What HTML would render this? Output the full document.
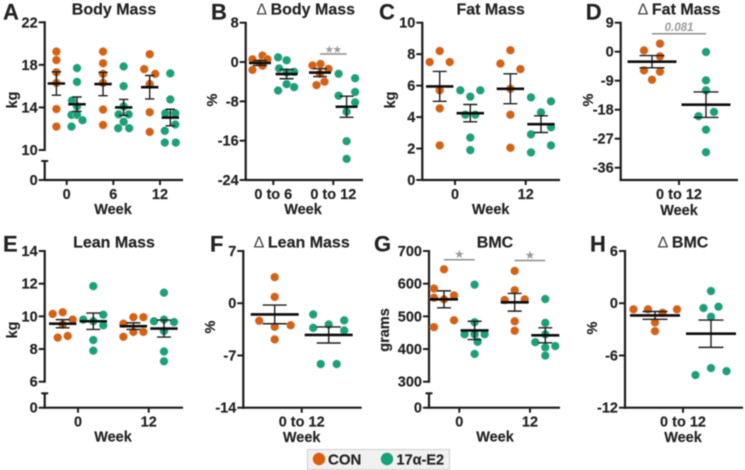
<!DOCTYPE html>
<html lang="en">
<head>
<meta charset="utf-8">
<title>Body composition panels</title>
<style>
html,body{margin:0;padding:0;background:#fff;width:745px;height:470px;overflow:hidden}
svg{display:block;filter:blur(0.45px)}
text{font-family:"Liberation Sans",Arial,sans-serif;font-weight:bold;fill:#222;stroke:#222;stroke-width:0.15px}
</style>
</head>
<body>
<svg id="chart" xmlns="http://www.w3.org/2000/svg" width="745" height="470" viewBox="0 0 745 470"></svg>
<script>
// ---------- Panel A: Body Mass ----------
const panelACategories = ['0', '6', '12'];
const panelATicks = [22, 18, 14, 10];
const panelAConValues = [[19.25,18.45,17.3,16.3,13.85,12.2],[19.25,18.15,17.15,16.3,13.8,12.35],[19.0,17.6,17.15,16.2,13.55,11.7]];
const panelAConLanes = [[0,0,0,0,0,0],[0,0,0,0,0,0],[0,-1.1,1.1,0,0,0]];
const panelAConMeans = [16.25,16.2,15.9];
const panelAConSems = [1.1,1.1,1.1];
const panelAE2Values = [[17.7,16.4,14.65,14.1,13.3,13.3,12.8,12.2],[17.85,16.0,14.1,13.35,13.35,12.65,12.05,12.05],[17.2,14.75,13.45,13.45,12.4,11.8,10.7,10.7]];
const panelAE2Lanes = [[0,0,-1,0,-1.1,0,1.1,-1.1],[0,0,0,-1,1,0,-1.1,1.1],[0,0,-1,1,1,-1.1,-1.1,1.1]];
const panelAE2Means = [14.3,14.0,13.05];
const panelAE2Sems = [0.68,0.75,0.78];

// ---------- Panel B: Delta Body Mass ----------
const panelBCategories = ['0 to 6', '0 to 12'];
const panelBTicks = [8, 0, -8, -16, -24];
const panelBConValues = [[1.3,0.55,0.55,-0.2,-0.75,-1.6],[-0.7,-0.4,-1.4,-2.4,-4.0,-4.7]];
const panelBConLanes = [[0.5,-1.5,1.5,0,0.5,-1.5],[-1.5,0.1,1.7,0,0.9,-0.7]];
const panelBConMeans = [-0.2,-2.15];
const panelBConSems = [0.5,0.8];
const panelBE2Values = [[0.95,0.35,-1.3,-2.1,-2.0,-4.5,-5.1,-5.8],[-2.4,-3.3,-6.1,-6.85,-8.2,-10.1,-16.1,-19.7]];
const panelBE2Lanes = [[-1.7,0,-1.5,0,1.5,0,1.5,-1.7],[-1.6,1.7,1.7,-1.6,1.7,0,0,0]];
const panelBE2Means = [-2.45,-9.1];
const panelBE2Sems = [0.95,2.15];

// ---------- Panel C: Fat Mass ----------
const panelCCategories = ['0', '12'];
const panelCTicks = [10, 8, 6, 4, 2, 0];
const panelCConValues = [[8.2,7.5,7.5,5.7,4.55,2.2],[8.25,7.4,7.05,5.8,4.15,2.05]];
const panelCConLanes = [[0,-2,2,0,0,0],[0,-2,2,0,0,0]];
const panelCConMeans = [5.95,5.8];
const panelCConSems = [0.95,0.95];
const panelCE2Values = [[5.7,5.7,5.3,4.15,4.15,2.7,1.9],[5.25,5.0,4.3,3.35,2.9,2.2,1.75]];
const panelCE2Lanes = [[-2,2,0,-1,1,0,0],[-2,2,0,2,-2,2,-2]];
const panelCE2Means = [4.25,3.55];
const panelCE2Sems = [0.55,0.53];

// ---------- Panel D: Delta Fat Mass ----------
const panelDCategories = ['0 to 12'];
const panelDTicks = [9, 0, -9, -18, -27, -36];
const panelDConValues = [[2.5,0.4,-1.45,-5.8,-6.2,-8.7]];
const panelDConLanes = [[1.6,-1.6,1.6,-1.6,1.6,0]];
const panelDConMeans = [-3.1];
const panelDConSems = [1.9];
const panelDE2Values = [[-0.1,-8.9,-12,-18.7,-20,-24.2,-31.2]];
const panelDE2Lanes = [[0,0,0,1.6,-1.5,0,0]];
const panelDE2Means = [-16.45];
const panelDE2Sems = [3.95];

// ---------- Panel E: Lean Mass ----------
const panelECategories = ['0', '12'];
const panelETicks = [14, 12, 10, 8, 6];
const panelEConValues = [[10.15,10.25,9.8,9.5,8.7,8.8],[9.95,9.95,9.55,8.75,9.05,9.05]];
const panelEConLanes = [[-2,0,2,0,-1,1],[0,2,-2,-2,0,2]];
const panelEConMeans = [9.55,9.4];
const panelEConSems = [0.25,0.2];
const panelEE2Values = [[11.85,9.8,9.7,10.1,9.45,8.55,7.9],[11.45,9.7,9.8,9.65,9.1,7.85,7.25]];
const panelEE2Lanes = [[0,-2,0,2,2,0,0],[0,-2,0,2,0,0,0]];
const panelEE2Means = [9.7,9.25];
const panelEE2Sems = [0.5,0.52];

// ---------- Panel F: Delta Lean Mass ----------
const panelFCategories = ['0 to 12'];
const panelFTicks = [7, 0, -7, -14];
const panelFConValues = [[3.5,0.85,-2.35,-2.95,-3.15,-4.85]];
const panelFConLanes = [[0,0,-3.1,3.2,0,0]];
const panelFConMeans = [-1.5];
const panelFConSems = [1.25];
const panelFE2Values = [[-1.5,-2.3,-3.3,-2.85,-3.65,-8.15,-8.15]];
const panelFE2Lanes = [[-3.1,3.1,-3.1,0,3.1,-1.6,1.6]];
const panelFE2Means = [-4.25];
const panelFE2Sems = [1.08];

// ---------- Panel G: BMC ----------
const panelGCategories = ['0', '12'];
const panelGTicks = [700, 600, 500, 400, 300];
const panelGConValues = [[644,585,557,564,552,488,467],[639,580,550,552,485,456]];
const panelGConLanes = [[0,-2,-2,2,0,2,-2],[0,0,-2,2,0,0]];
const panelGConMeans = [552,543];
const panelGConSems = [26,27];
const panelGE2Values = [[597,482,445,445,445,422,385],[553,480,445,421,405,409,380]];
const panelGE2Lanes = [[0,0,-2,2,0,0.6,0],[0,0,0,-2,0,2,0]];
const panelGE2Means = [457,442];
const panelGE2Sems = [28,23];

// ---------- Panel H: Delta BMC ----------
const panelHCategories = ['0 to 12'];
const panelHTicks = [6, 0, -6, -12];
const panelHConValues = [[-0.7,-0.7,-1.1,-0.7,-2.2,-3.2]];
const panelHConLanes = [[-4.3,-1.4,1.5,4.4,0,0]];
const panelHConMeans = [-1.4];
const panelHConSems = [0.45];
const panelHE2Values = [[1.4,-0.55,-0.4,-1.55,-7.45,-8.25,-7.8]];
const panelHE2Lanes = [[0,-1.5,1.5,0,0,-3.1,3.1]];
const panelHE2Means = [-3.5];
const panelHE2Sems = [1.57];

// ---------- Layout (geometry only) ----------
const CON_COLOR = '#d9600f';
const E2_COLOR = '#17a27a';
const AXIS_COLOR = '#1c1c1c';
const LANE_PX = 5;
const NS = 'http://www.w3.org/2000/svg';
const svg = document.getElementById('chart');

const panels = [
 {key:'a',letter:'A',letterX:3,letterY:19.5,title:'Body Mass',delta:false,titleX:114,titleY:14.5,ylabel:'kg',ylabelX:17,ylabelY:100,
  axisX:44.7,axisEnd:183,axisBottom:180,domainTop:22,domainBottom:10,pxTop:22.3,pxBottom:150,breakTop:161,
  firstTick:66.7,tickStep:46.65,groupOff:10.3,meanHalf:8.7,capHalf:4.7,labelY:199,weekX:113,weekY:214,
  cats:panelACategories,ticks:panelATicks,con:panelAConValues,conLanes:panelAConLanes,conMeans:panelAConMeans,conSems:panelAConSems,
  e2:panelAE2Values,e2Lanes:panelAE2Lanes,e2Means:panelAE2Means,e2Sems:panelAE2Sems,sig:[]},
 {key:'b',letter:'B',letterX:211,letterY:19.5,title:'Body Mass',delta:true,titleX:305.7,titleY:14.5,ylabel:'%',ylabelX:217,ylabelY:100,
  axisX:245.7,axisEnd:363,axisBottom:180,domainTop:8,domainBottom:-24,pxTop:22.7,pxBottom:180,
  firstTick:273.3,tickStep:60,groupOff:13.3,meanHalf:11,capHalf:7,labelY:199,weekX:303,weekY:214,
  cats:panelBCategories,ticks:panelBTicks,con:panelBConValues,conLanes:panelBConLanes,conMeans:panelBConMeans,conSems:panelBConSems,
  e2:panelBE2Values,e2Lanes:panelBE2Lanes,e2Means:panelBE2Means,e2Sems:panelBE2Sems,sig:[{cat:1,y:54,label:'★★',labelY:52.5,size:9}]},
 {key:'c',letter:'C',letterX:379,letterY:19.5,title:'Fat Mass',delta:false,titleX:490.7,titleY:14.5,ylabel:'kg',ylabelX:395,ylabelY:100,
  axisX:422.3,axisEnd:560,axisBottom:180,domainTop:10,domainBottom:0,pxTop:22.7,pxBottom:180,
  firstTick:455,tickStep:70.7,groupOff:15.3,meanHalf:13.7,capHalf:7,labelY:199,weekX:490.7,weekY:214,
  cats:panelCCategories,ticks:panelCTicks,con:panelCConValues,conLanes:panelCConLanes,conMeans:panelCConMeans,conSems:panelCConSems,
  e2:panelCE2Values,e2Lanes:panelCE2Lanes,e2Means:panelCE2Means,e2Sems:panelCE2Sems,sig:[]},
 {key:'d',letter:'D',letterX:585.7,letterY:19.5,title:'Fat Mass',delta:true,titleX:679,titleY:14.5,ylabel:'%',ylabelX:593,ylabelY:100,
  axisX:620.7,axisEnd:738,axisBottom:180,domainTop:9,domainBottom:-36,pxTop:22.7,pxBottom:167.7,
  firstTick:679,tickStep:0,groupOff:27,meanHalf:24.5,capHalf:12.5,labelY:199,weekX:679,weekY:215,
  cats:panelDCategories,ticks:panelDTicks,con:panelDConValues,conLanes:panelDConLanes,conMeans:panelDConMeans,conSems:panelDConSems,
  e2:panelDE2Values,e2Lanes:panelDE2Lanes,e2Means:panelDE2Means,e2Sems:panelDE2Sems,sig:[{cat:0,y:33.7,label:'0.081',labelY:31,size:11.5,italic:true}]},
 {key:'e',letter:'E',letterX:3,letterY:251.5,title:'Lean Mass',delta:false,titleX:114,titleY:247.7,ylabel:'kg',ylabelX:17,ylabelY:330,
  axisX:44.7,axisEnd:183,axisBottom:407.7,domainTop:14,domainBottom:6,pxTop:251,pxBottom:381.7,breakTop:393.3,
  firstTick:78,tickStep:70.7,groupOff:15.3,meanHalf:13.7,capHalf:7,labelY:426.7,weekX:113,weekY:441.7,
  cats:panelECategories,ticks:panelETicks,con:panelEConValues,conLanes:panelEConLanes,conMeans:panelEConMeans,conSems:panelEConSems,
  e2:panelEE2Values,e2Lanes:panelEE2Lanes,e2Means:panelEE2Means,e2Sems:panelEE2Sems,sig:[]},
 {key:'f',letter:'F',letterX:210,letterY:251.5,title:'Lean Mass',delta:true,titleX:301.7,titleY:247.7,ylabel:'%',ylabelX:215,ylabelY:327,
  axisX:243.3,axisEnd:361.7,axisBottom:407.7,domainTop:7,domainBottom:-14,pxTop:251,pxBottom:407.7,
  firstTick:301.7,tickStep:0,groupOff:27,meanHalf:24,capHalf:12,labelY:426.7,weekX:301.7,weekY:442,
  cats:panelFCategories,ticks:panelFTicks,con:panelFConValues,conLanes:panelFConLanes,conMeans:panelFConMeans,conSems:panelFConSems,
  e2:panelFE2Values,e2Lanes:panelFE2Lanes,e2Means:panelFE2Means,e2Sems:panelFE2Sems,sig:[]},
 {key:'g',letter:'G',letterX:374,letterY:251.5,title:'BMC',delta:false,titleX:495,titleY:247.7,ylabel:'grams',ylabelX:389,ylabelY:330,
  axisX:429,axisEnd:560,axisBottom:407.7,domainTop:700,domainBottom:300,pxTop:251,pxBottom:381.7,breakTop:393.3,
  firstTick:459.3,tickStep:70.7,groupOff:15.3,meanHalf:14,capHalf:7,labelY:426.7,weekX:495,weekY:441.7,
  cats:panelGCategories,ticks:panelGTicks,con:panelGConValues,conLanes:panelGConLanes,conMeans:panelGConMeans,conSems:panelGConSems,
  e2:panelGE2Values,e2Lanes:panelGE2Lanes,e2Means:panelGE2Means,e2Sems:panelGE2Sems,
  sig:[{cat:0,y:259.7,label:'★',labelY:257.5,size:10},{cat:1,y:260.5,label:'★',labelY:258.5,size:10}]},
 {key:'h',letter:'H',letterX:590,letterY:251.5,title:'BMC',delta:true,titleX:683,titleY:247.7,ylabel:'%',ylabelX:597,ylabelY:328,
  axisX:625,axisEnd:743,axisBottom:407.7,domainTop:6,domainBottom:-12,pxTop:251,pxBottom:407.7,
  firstTick:683,tickStep:0,groupOff:28,meanHalf:25,capHalf:12.5,labelY:426.7,weekX:683,weekY:442,
  cats:panelHCategories,ticks:panelHTicks,con:panelHConValues,conLanes:panelHConLanes,conMeans:panelHConMeans,conSems:panelHConSems,
  e2:panelHE2Values,e2Lanes:panelHE2Lanes,e2Means:panelHE2Means,e2Sems:panelHE2Sems,sig:[]}
];

function make(parent, tag, attrs, txt) {
  const el = document.createElementNS(NS, tag);
  for (const k in attrs) el.setAttribute(k, attrs[k]);
  if (txt !== undefined) el.textContent = txt;
  parent.appendChild(el);
  return el;
}
function yScale(p, v) {
  return p.pxBottom + (v - p.domainBottom) * (p.pxTop - p.pxBottom) / (p.domainTop - p.domainBottom);
}
function xTick(p, i) {
  return p.firstTick + i * p.tickStep;
}
function axisLine(g, x1, y1, x2, y2, w, name) {
  const l = make(g, 'line', {x1:x1, y1:y1, x2:x2, y2:y2, stroke:AXIS_COLOR, 'stroke-width':w});
  
  
  return l;
}

function drawAxes(g, p) {
  const top = yScale(p, p.ticks[0]);
  const lastVal = p.ticks[p.ticks.length - 1];
  if (p.breakTop !== undefined) {
    axisLine(g, p.axisX, top - 1, p.axisX, yScale(p, lastVal) + 1, 2.2, 'y-axis-upper');
    axisLine(g, p.axisX, p.breakTop, p.axisX, p.axisBottom, 2.2, 'y-axis-lower');
    axisLine(g, p.axisX - 3.5, p.breakTop, p.axisX + 3.5, p.breakTop, 2, 'y-axis-break-cap');
    axisLine(g, p.axisX - 6, p.axisBottom, p.axisX, p.axisBottom, 2, 'y-tick-0');
    const z = make(g, 'text', {x:p.axisX - 7, y:p.axisBottom + 5, 'text-anchor':'end', 'font-size':14.5}, '0');
    
    
  } else {
    axisLine(g, p.axisX, top - 1, p.axisX, p.axisBottom + 1, 2.2, 'y-axis');
  }
  axisLine(g, p.axisX - 1, p.axisBottom, p.axisEnd, p.axisBottom, 2.2, 'x-axis');
  p.ticks.forEach(function (t) {
    const y = yScale(p, t);
    axisLine(g, p.axisX - 6, y, p.axisX, y, 2, 'y-tick-' + t);
    const lab = make(g, 'text', {x:p.axisX - 7, y:y + 5, 'text-anchor':'end', 'font-size':14.5}, String(t));
    
    
  });
  p.cats.forEach(function (c, i) {
    const x = xTick(p, i);
    axisLine(g, x, p.axisBottom, x, p.axisBottom + 5, 2, 'x-tick-' + c.replace(/ /g, '-'));
    const lab = make(g, 'text', {x:x, y:p.labelY, 'text-anchor':'middle', 'font-size':14.5}, c);
    
    
  });
}

function drawGroup(g, p, cx, values, lanes, mean, sem, color, label) {
  values.forEach(function (v, j) {
    const c = make(g, 'circle', {cx:cx + lanes[j] * LANE_PX, cy:yScale(p, v), r:4.2, fill:color, stroke:'#c8c8c8', 'stroke-width':0.5});
    
    
  });
  const yHi = yScale(p, mean + sem), yLo = yScale(p, mean - sem), yM = yScale(p, mean);
  const w = make(g, 'path', {d:'M' + (cx - p.capHalf) + ' ' + yHi + 'H' + (cx + p.capHalf) + 'M' + cx + ' ' + yHi + 'V' + yLo + 'M' + (cx - p.capHalf) + ' ' + yLo + 'H' + (cx + p.capHalf), fill:'none', stroke:'#1c1c1c', 'stroke-width':1.4});
  
  
  const m = make(g, 'line', {x1:cx - p.meanHalf, y1:yM, x2:cx + p.meanHalf, y2:yM, stroke:'#0c0c0c', 'stroke-width':2.6});
  
  
}

function drawPanel(p) {
  const g = make(svg, 'g', {});
  
  

  const letter = make(g, 'text', {x:p.letterX, y:p.letterY, 'font-size':22}, p.letter);
  
  

  const title = make(g, 'text', {x:p.titleX, y:p.titleY, 'text-anchor':'middle', 'font-size':16});
  
  
  if (p.delta) {
    const d = make(title, 'tspan', {style:'font-weight:normal;fill:#444;stroke:none'}, 'Δ ');
    
    
  }
  make(title, 'tspan', {}, p.title);

  const yl = make(g, 'text', {x:p.ylabelX, y:p.ylabelY, 'text-anchor':'middle', 'font-size':14.5, transform:'rotate(-90 ' + p.ylabelX + ' ' + p.ylabelY + ')'}, p.ylabel);
  
  

  const xl = make(g, 'text', {x:p.weekX, y:p.weekY, 'text-anchor':'middle', 'font-size':14.5}, 'Week');
  
  

  drawAxes(g, p);

  p.cats.forEach(function (c, i) {
    const tx = xTick(p, i);
    drawGroup(g, p, tx - p.groupOff, p.con[i], p.conLanes[i], p.conMeans[i], p.conSems[i], CON_COLOR, 'con');
    drawGroup(g, p, tx + p.groupOff, p.e2[i], p.e2Lanes[i], p.e2Means[i], p.e2Sems[i], E2_COLOR, 'e2');
  });

  p.sig.forEach(function (s) {
    const tx = xTick(p, s.cat);
    const b = make(g, 'line', {x1:tx - p.groupOff, y1:s.y, x2:tx + p.groupOff, y2:s.y, stroke:'#8c8c8c', 'stroke-width':1.5});
    
    
    const attrs = {x:tx, y:s.labelY, 'text-anchor':'middle', 'font-size':s.size, style:'fill:#9a9a9a;stroke:none' + (s.italic ? ';font-style:italic' : '')};
    const t = make(g, 'text', attrs, s.label);
    
    
  });
}

panels.forEach(drawPanel);

// ---------- Legend ----------
const legend = make(svg, 'g', {});


const legendBox = make(legend, 'rect', {x:307.5, y:449.5, width:142, height:20, fill:'#f1f1f1', stroke:'#cfcfcf', 'stroke-width':1});


const conSwatch = make(legend, 'circle', {cx:319, cy:459, r:6.2, fill:CON_COLOR});


const conText = make(legend, 'text', {x:328, y:464.5, 'font-size':15}, 'CON');


const e2Swatch = make(legend, 'circle', {cx:387, cy:459, r:6.2, fill:E2_COLOR});


const e2Text = make(legend, 'text', {x:396.5, y:464.5, 'font-size':14.5}, '17α-E2');


</script>
</body>
</html>
